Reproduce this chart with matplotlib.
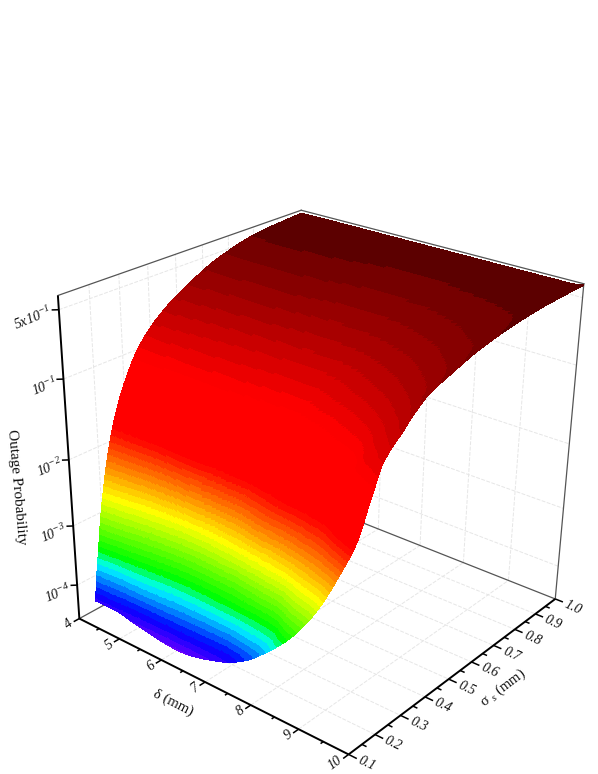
import numpy as np, matplotlib
matplotlib.use('Agg')
import matplotlib.pyplot as plt
from mpl_toolkits.mplot3d import proj3d

plt.rcParams['font.family'] = ['Liberation Serif', 'DejaVu Sans']
plt.rcParams['mathtext.fontset'] = 'custom'
plt.rcParams['mathtext.rm'] = 'Liberation Serif:italic'
plt.rcParams['mathtext.it'] = 'Liberation Serif:italic'

# ---------- data ----------
delta_mm = [4, 4.5, 5, 6, 7, 7.5, 8, 8.5, 9, 9.5, 9.75, 10]
sigma_mm = [.16, .17, .18, .195, .21, .23, .26, .3, .36, .44, .54, .66, .82, 1.0]
row_d40 = [-4.25, -3.88, -3.57, -3.10, -2.73, -2.32, -1.86, -1.44, -1.02, -.71, -.47, -.26, -.11, -.055]
row_d45 = [-4.25, -3.99, -3.76, -3.32, -2.95, -2.47, -1.87, -1.44, -1.03, -.74, -.48, -.27, -.10, -.05]
row_d50 = [-4.31, -4.08, -3.78, -3.52, -3.20, -2.70, -1.885, -1.44, -1.05, -.77, -.50, -.27, -.10, -.05]
row_d60 = [-4.39, -4.10, -3.92, -3.68, -3.45, -2.95, -1.885, -1.47, -1.06, -.82, -.52, -.28, -.11, -.05]
row_d70 = [-4.24, -4.14, -3.96, -3.60, -3.35, -2.65, -1.83, -1.54, -1.12, -.85, -.57, -.33, -.13, -.05]
row_d75 = [-4.07, -3.98, -3.78, -3.52, -3.05, -2.20, -1.78, -1.52, -1.14, -.85, -.56, -.33, -.13, -.05]
row_d80 = [-3.79, -3.71, -3.62, -3.30, -2.61, -1.93, -1.71, -1.42, -1.04, -.80, -.53, -.32, -.13, -.05]
row_d85 = [-3.44, -3.25, -3.00, -2.60, -2.15, -1.82, -1.55, -1.20, -.95, -.70, -.48, -.29, -.12, -.05]
row_d90 = [-2.95, -2.75, -2.45, -2.10, -1.85, -1.60, -1.30, -1.05, -.82, -.60, -.42, -.25, -.11, -.05]
row_d95 = [-2.27, -1.95, -1.65, -1.31, -1.12, -1.03, -.94, -.82, -.65, -.48, -.33, -.20, -.10, -.05]
row_d975 = [-1.87, -1.50, -1.25, -1.09, -.99, -.93, -.83, -.71, -.55, -.41, -.28, -.18, -.09, -.05]
row_d100 = [-1.25, -1.16, -1.06, -.94, -.87, -.79, -.70, -.56, -.40, -.30, -.19, -.11, -.05, -.03]

x_ticks = [4, 5, 6, 7, 8, 9, 10]
x_minor = [4.5, 5.5, 6.5, 7.5, 8.5, 9.5]
y_ticks = [.1, .2, .3, .4, .5, .6, .7, .8, .9, 1.0]
y_minor = [.15, .25, .35, .45, .55, .65, .75, .85, .95]
y_labels = ['0.1', '0.2', '0.3', '0.4', '0.5', '0.6', '0.7', '0.8', '0.9', '1.0']
z_ticks = [-.188, -1.06, -2.124, -3.035, -3.884]   # axis height of each tick on the axis
z_labels = [r'$\mathrm{5x10^{-1}}$', r'$\mathrm{10^{-1}}$', r'$\mathrm{10^{-2}}$', r'$\mathrm{10^{-3}}$', r'$\mathrm{10^{-4}}$']

# palette: height -> colour, in bands
band_edges = np.r_[np.arange(-4.525, -1.965, .08), np.arange(-1.965, -.06, .115)]
pal_z = [-4.45, -4.124, -3.718, -3.521, -2.811, -2.4, -1.965, -1.125, -.09, 0]
pal_rgb = [(125, 0, 255), (0, 0, 255), (0, 255, 255), (0, 255, 0), (255, 255, 0), (255, 128, 0),
           (255, 0, 0), (255, 0, 0), (105, 0, 0), (85, 0, 0)]

# ---------- view ----------
FW, FH = 598, 774
ZL, ZH = -4.3791, -0.0132
S, TX, TY = 3225.74, 322.70, 457.06
fig = plt.figure(figsize=(FW / 100, FH / 100), dpi=100)
ax = fig.add_axes([0, 0, 1, 1], projection='3d', computed_zorder=False)
ax.set_xlim(4, 10, view_margin=0)
ax.set_ylim(.1, 1, view_margin=0)
ax.set_zlim(ZL, ZH, view_margin=0)
ax.view_init(elev=26.2196, azim=-51.0595, roll=-0.7737)
ax.set_proj_type('persp', focal_length=0.4855)
ax.set_box_aspect((1, 0.995, 0.9972), zoom=1)
vl = ax.viewLim
W = S * (vl.x1 - vl.x0)
ax.set_position([(TX + S * vl.x0) / FW, (FH - TY + S * vl.y0) / FH, W / FW, W / FH])
ax.set_axis_off()
M = ax.get_proj()

# ---------- surface ----------
def pchip(x, y, xi):
    h = np.diff(x); d = np.diff(y) / h; m = np.zeros_like(y)
    for i in range(1, len(x) - 1):
        if d[i - 1] * d[i] > 0:
            w1 = 2 * h[i] + h[i - 1]; w2 = h[i] + 2 * h[i - 1]
            m[i] = (w1 + w2) / (w1 / d[i - 1] + w2 / d[i])
    m[0] = d[0]; m[-1] = d[-1]
    j = np.clip(np.searchsorted(x, xi, side='right') - 1, 0, len(x) - 2)
    t = (xi - x[j]) / h[j]
    return ((2*t**3 - 3*t**2 + 1) * y[j] + (t**3 - 2*t**2 + t) * h[j] * m[j]
            + (-2*t**3 + 3*t**2) * y[j + 1] + (t**3 - t**2) * h[j] * m[j + 1])

dn = np.array(delta_mm, float)
sn = np.array(sigma_mm, float)
G = np.array([row_d40, row_d45, row_d50, row_d60, row_d70, row_d75, row_d80,
              row_d85, row_d90, row_d95, row_d975, row_d100])
dd = np.concatenate([np.linspace(dn[k], dn[k + 1], 14 if dn[k] >= 9.5 else 40, endpoint=False)
                     for k in range(len(dn) - 1)] + [[dn[-1]]])
ss = np.concatenate([np.linspace(sn[k], sn[k + 1], 45 if sn[k] < .3 else 15, endpoint=False)
                     for k in range(len(sn) - 1)] + [[sn[-1]]])
F1 = np.array([pchip(dn, G[:, j], dd) for j in range(len(sn))]).T
F = np.array([pchip(sn, F1[i], ss) for i in range(len(dd))])
Fm = .25 * (F[:-1, :-1] + F[1:, :-1] + F[:-1, 1:] + F[1:, 1:])
mids = np.r_[band_edges[0] - .04, (band_edges[:-1] + band_edges[1:]) / 2, -.03]
bandc = mids[np.searchsorted(band_edges, Fm)]
rgb = np.array(pal_rgb) / 255
col = np.stack([np.interp(bandc, pal_z, rgb[:, i]) for i in range(3)] + [np.ones_like(bandc)], -1)
X, Y = np.meshgrid(dd, ss, indexing='ij')
ax.plot_surface(X, Y, F, facecolors=col, shade=False, rstride=1, cstride=1,
                linewidth=0, edgecolor='none', antialiased=False, zorder=3)

# ---------- grid and box ----------
gkw = dict(color='#e6e6e6', lw=.7, ls=(0, (4, 1.5)), zorder=1)
for d in x_ticks[1:-1]:
    ax.plot([d, d], [.1, 1], [ZL, ZL], **gkw)
    ax.plot([d, d], [1, 1], [ZL, ZH], **gkw)
for s in y_ticks[1:-1]:
    ax.plot([4, 10], [s, s], [ZL, ZL], **gkw)
    ax.plot([4, 4], [s, s], [ZL, ZH], **gkw)
for z in z_ticks:
    ax.plot([4, 4], [.1, 1], [z, z], **gkw)
    ax.plot([4, 10], [1, 1], [z, z], **gkw)
ekw = dict(color='#555555', lw=.9, zorder=2)
ax.plot([4, 10], [1, 1], [ZL, ZL], **ekw)
ax.plot([4, 4], [.1, 1], [ZL, ZL], **ekw)
ax.plot([4, 4], [.1, 1], [ZH, ZH], **ekw)
ax.plot([4, 10], [1, 1], [ZH, ZH], **ekw)
ax.plot([10, 10], [1, 1], [ZL, ZH], **ekw)

# ---------- axes, ticks, labels ----------
akw = dict(color='k', lw=1.4, zorder=5, solid_capstyle='butt')
ax.plot([4, 10], [.1, .1], [ZL, ZL], **akw)
ax.plot([10, 10], [.1, 1], [ZL, ZL], **akw)
ax.plot([4, 4], [.1, .1], [ZL, ZH], **akw)
tkw = dict(color='k', lw=1.1, zorder=5, solid_capstyle='butt')
for d in x_ticks:
    ax.plot([d, d], [.1, .08], [ZL, ZL], **tkw)
for d in x_minor:
    ax.plot([d, d], [.1, .09], [ZL, ZL], **tkw)
for s in y_ticks:
    ax.plot([10, 10.16], [s, s], [ZL, ZL], **tkw)
for s in y_minor:
    ax.plot([10, 10.09], [s, s], [ZL, ZL], **tkw)
for z in z_ticks:
    ax.plot([4, 3.92], [.1, .088], [z, z], **tkw)

def label(x, y, z, text, dx, dy, rot, size=10, style='italic'):
    xp, yp, _ = proj3d.proj_transform(x, y, z, M)
    ax.annotate(text, xy=(xp, yp), xycoords='data', xytext=(dx, -dy), textcoords='offset pixels',
                ha='center', va='center', rotation=rot, rotation_mode='anchor', fontsize=size,
                style=style, annotation_clip=False, color='#111111')

for d in x_ticks:
    dx, dy = (-14, 9) if d == 10 else (-10.5, 6)
    label(d, .1, ZL, str(d), dx, dy, 37)
for s, t in zip(y_ticks, y_labels):
    label(10, s, ZL, t, 18, 9, -25)
for z, t in zip(z_ticks, z_labels):
    label(4, .1, z, t, -26 if t.startswith(r'$\mathrm{5') else -19, 8, 22)

def axis_title(px, py, text, rot, size=11):
    fig.text(px / FW, 1 - py / FH, text, ha='center', va='center', rotation=rot,
             rotation_mode='anchor', fontsize=size, color='#111111')

axis_title(17, 487, 'Outage Probability', -85)
axis_title(173, 703, 'δ (mm)', -27, 10.5)
axis_title(503, 688, 'σ $_{\\mathrm{s}}$ (mm)', 37, 10.5)

fig.savefig('out.png', dpi=100)
